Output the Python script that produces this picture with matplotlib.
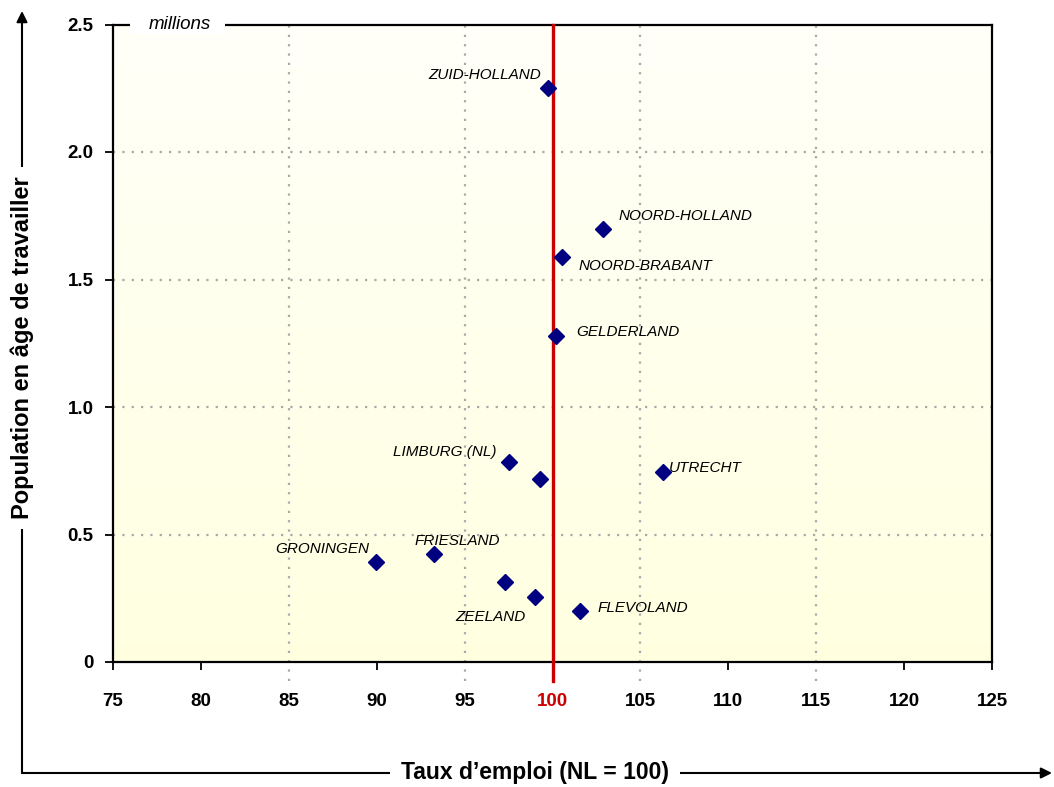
import numpy as np
import matplotlib
matplotlib.use("Agg")
import matplotlib.pyplot as plt
from matplotlib.patches import Rectangle
import matplotlib.transforms as mtransforms

plt.rcParams['font.family'] = ['Liberation Sans', 'DejaVu Sans']

# ---------------- data ----------------
regions = ["ZUID-HOLLAND", "NOORD-HOLLAND", "NOORD-BRABANT", "GELDERLAND",
           "LIMBURG (NL)", "", "UTRECHT", "GRONINGEN", "FRIESLAND", "",
           "ZEELAND", "FLEVOLAND"]
emploi = [99.74, 102.87, 100.54, 100.20, 97.54, 99.27, 106.30, 89.96, 93.26,
          97.28, 99.02, 101.58]
population = [2.252, 1.700, 1.590, 1.277, 0.785, 0.717, 0.745, 0.393, 0.422,
              0.315, 0.253, 0.199]
x_ticks = [75, 80, 85, 90, 95, 100, 105, 110, 115, 120, 125]
y_ticks = [0, 0.5, 1.0, 1.5, 2.0, 2.5]
y_ticklabels = ["0", "0.5", "1.0", "1.5", "2.0", "2.5"]
ref_value = 100

# label offsets in pixels (dx, dy, ha)
label_pos = {
    "ZUID-HOLLAND": (-7, 13, "right"),
    "NOORD-HOLLAND": (16, 12, "left"),
    "NOORD-BRABANT": (17, -9, "left"),
    "GELDERLAND": (20, 4, "left"),
    "LIMBURG (NL)": (-13, 10, "right"),
    "UTRECHT": (6, 4, "left"),
    "GRONINGEN": (-7, 13, "right"),
    "FRIESLAND": (-19, 13, "left"),
    "ZEELAND": (-10, -20, "right"),
    "FLEVOLAND": (17, 3, "left"),
}

W, H = 1054, 787
fig = plt.figure(figsize=(W / 100, H / 100), dpi=100)
fig.patch.set_facecolor("white")
ax_l, ax_r, ax_t, ax_b = 113, 992, 24.5, 662
ax = fig.add_axes([ax_l / W, 1 - ax_b / H, (ax_r - ax_l) / W, (ax_b - ax_t) / H])

ax.set_xlim(75, 125)
ax.set_ylim(0, 2.5)

# gradient background
grad = np.linspace(0, 1, 256).reshape(-1, 1)
top = np.array([1.0, 1.0, 0.975])
bot = np.array([1.0, 1.0, 0.88])
img = top[None, None, :] * (1 - grad[:, :, None]) + bot[None, None, :] * grad[:, :, None]
ax.imshow(img, extent=[75, 125, 0, 2.5], aspect="auto", origin="upper", zorder=0)

grid_kw = dict(color="#a8a8a8", lw=1.6, ls=(0, (1, 3.2)))
for yv in [0.5, 1.0, 1.5, 2.0]:
    ax.axhline(yv, zorder=1, **grid_kw)
trans_x = mtransforms.blended_transform_factory(ax.transData, ax.transAxes)
for xv in [85, 95, 105, 115]:
    ax.plot([xv, xv], [-0.03, 1], transform=trans_x, clip_on=False, zorder=1, **grid_kw)

# reference line
ax.plot([ref_value, ref_value], [-0.03, 1], transform=trans_x, clip_on=False,
        color="#cc0000", lw=2.4, zorder=3)

# points
ax.plot(emploi, population, ls="none", marker="D", ms=8.5, color="#000080", zorder=5)

for name, xv, yv in zip(regions, emploi, population):
    if not name:
        continue
    dx, dy, ha = label_pos[name]
    ax.annotate(name, (xv, yv), xytext=(dx, dy), textcoords="offset pixels",
                ha=ha, va="center", fontsize=11, fontstyle="italic", zorder=6)

# ticks
ax.set_xticks(x_ticks)
ax.set_xticklabels([str(v) for v in x_ticks])
ax.set_yticks(y_ticks)
ax.set_yticklabels(y_ticklabels)
ax.tick_params(axis="both", direction="out", length=6, width=1.3, color="black",
               labelsize=13.5)
ax.tick_params(axis="x", pad=16)
ax.tick_params(axis="y", pad=8)
for lab in ax.get_xticklabels() + ax.get_yticklabels():
    lab.set_fontweight("bold")
for t, v in zip(ax.xaxis.get_major_ticks(), x_ticks):
    if v in (85, 95, 105, 115, 100):
        t.tick1line.set_visible(False)
    if v == ref_value:
        t.label1.set_color("#cc0000")

for sp in ax.spines.values():
    sp.set_linewidth(1.6)
    sp.set_color("black")

# "millions" over top spine
ax.add_patch(Rectangle(((130 - ax_l) / (ax_r - ax_l), 0.985), (225 - 130) / (ax_r - ax_l), 0.05,
                       transform=ax.transAxes, facecolor="white", edgecolor="none",
                       clip_on=False, zorder=10))
ax.text((180 - ax_l) / (ax_r - ax_l), 1.0, "millions", transform=ax.transAxes,
        ha="center", va="center", fontsize=13.5, fontstyle="italic", zorder=11)

# outer L arrows
cx, cy = 22 / W, 1 - 773 / H
arrow_kw = dict(arrowstyle="-|>", lw=1.5, color="black", mutation_scale=16,
                shrinkA=0, shrinkB=0)
fig.add_artist(matplotlib.patches.FancyArrowPatch((cx, cy), (cx, 1 - 11 / H),
               transform=fig.transFigure, **arrow_kw))
fig.add_artist(matplotlib.patches.FancyArrowPatch((cx, cy), (1052 / W, cy),
               transform=fig.transFigure, **arrow_kw))

fig.text(cx, 1 - 348 / H, "Population en âge de travailler", rotation=90,
         ha="center", va="center", fontsize=17, fontweight="bold",
         bbox=dict(boxstyle="square,pad=0.4", facecolor="white", edgecolor="none"))
fig.text(535 / W, cy, "Taux d\u2019emploi (NL = 100)", ha="center", va="center",
         fontsize=16.5, fontweight="bold",
         bbox=dict(boxstyle="square,pad=0.5", facecolor="white", edgecolor="none"))

fig.savefig("out.png", dpi=100)
